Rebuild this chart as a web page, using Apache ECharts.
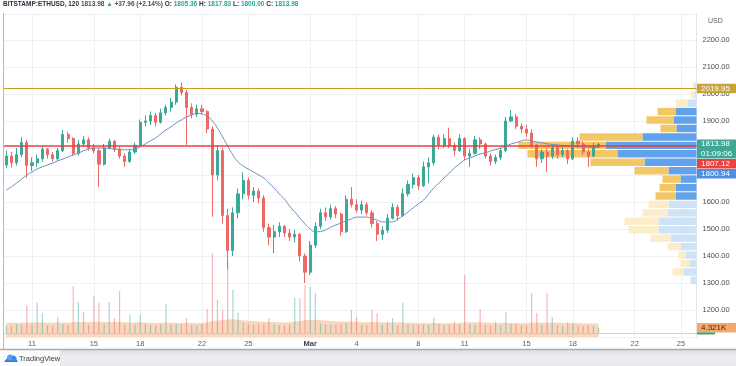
<!DOCTYPE html>
<html><head><meta charset="utf-8">
<script src="https://cdn.jsdelivr.net/npm/echarts@6/dist/echarts.min.js"></script>
<style>html,body{margin:0;padding:0;background:#fff}#c{width:736px;height:366px}</style>
</head><body><div id="c"></div>
<script>
// ---- data (8-hour candles) ----
const startDate = Date.UTC(2021, 1, 9, 0, 0);           // first category (empty slot)
const slotHours = 8;
const slotCount = 136;
const firstCandleSlot = 1;                              // Feb 9 08:00
const tickDates = ['2021-02-11','2021-02-15','2021-02-18','2021-02-22','2021-02-25','2021-03-01','2021-03-04','2021-03-08','2021-03-11','2021-03-15','2021-03-18','2021-03-22','2021-03-25'];
const tickLabels = ['11','15','18','22','25','Mar','4','8','11','15','18','22','25'];
const priceTicks = [1200,1300,1400,1500,1600,1700,1800,1900,2000,2100,2200];

const openP = [1737,1770,1745,1775,1820,1735,1745,1760,1795,1775,1760,1790,1850,1835,1780,1815,1830,1800,1790,1740,1800,1825,1795,1770,1750,1785,1810,1895,1900,1920,1895,1930,1950,1970,2025,2005,1950,1925,1945,1935,1870,1700,1790,1550,1420,1560,1630,1680,1625,1640,1615,1505,1470,1490,1510,1485,1470,1480,1400,1340,1440,1510,1560,1545,1575,1555,1490,1610,1590,1570,1590,1560,1520,1480,1495,1540,1580,1550,1630,1665,1690,1660,1730,1745,1840,1810,1835,1810,1790,1835,1770,1780,1830,1815,1770,1750,1765,1790,1900,1915,1880,1870,1855,1810,1760,1785,1770,1800,1775,1790,1760,1825,1815,1785,1770,1805.36];
const closeP = [1770,1745,1775,1820,1735,1745,1760,1795,1775,1760,1790,1850,1835,1780,1815,1830,1800,1790,1740,1800,1825,1795,1770,1750,1785,1810,1895,1900,1920,1895,1930,1950,1970,2025,2005,1950,1925,1945,1935,1870,1700,1790,1550,1420,1560,1630,1680,1625,1640,1615,1505,1470,1490,1510,1485,1470,1480,1400,1340,1440,1510,1560,1545,1575,1555,1490,1610,1590,1570,1590,1560,1520,1480,1495,1540,1580,1550,1630,1665,1690,1660,1730,1745,1840,1810,1835,1810,1790,1835,1770,1780,1830,1815,1770,1750,1765,1790,1900,1915,1880,1870,1855,1810,1760,1785,1770,1800,1775,1790,1760,1825,1815,1785,1770,1805.36,1813.98];
const highP = [1790,1785,1800,1840,1830,1765,1775,1805,1800,1785,1800,1867,1860,1840,1830,1845,1840,1815,1800,1815,1835,1830,1805,1780,1795,1820,1905,1920,1935,1930,1945,1960,1985,2035,2042,2015,1965,1960,1960,1940,1880,1810,1800,1575,1580,1650,1710,1690,1655,1650,1625,1520,1515,1525,1515,1500,1495,1485,1410,1455,1525,1575,1580,1590,1585,1560,1625,1655,1610,1605,1600,1570,1530,1510,1555,1595,1590,1650,1680,1705,1700,1750,1765,1850,1850,1850,1875,1820,1850,1840,1795,1845,1840,1820,1780,1775,1800,1915,1941,1925,1890,1885,1870,1815,1795,1800,1810,1810,1805,1795,1840,1840,1825,1795,1820,1817.83];
const lowP = [1725,1728,1735,1765,1689,1715,1730,1750,1760,1750,1752,1785,1820,1770,1772,1805,1790,1780,1656,1735,1795,1785,1760,1730,1745,1778,1805,1880,1885,1880,1890,1920,1935,1960,1995,1811,1910,1915,1925,1855,1545,1680,1520,1350,1400,1540,1610,1610,1600,1595,1490,1440,1410,1470,1470,1455,1450,1380,1300,1330,1430,1500,1530,1535,1540,1475,1485,1580,1560,1555,1550,1505,1455,1460,1485,1535,1530,1545,1620,1650,1645,1655,1670,1735,1795,1800,1800,1770,1785,1755,1730,1775,1795,1760,1735,1740,1755,1785,1895,1870,1855,1840,1800,1730,1745,1710,1760,1760,1765,1740,1755,1800,1775,1730,1765,1800];
const maP = [1644,1656,1670,1685,1700,1711,1722,1730,1737,1744,1752,1759,1767,1774,1781,1789,1796,1800,1800,1800,1798,1796,1794,1793,1793,1796,1804,1815,1826,1837,1852,1867,1878,1893,1904,1915,1922,1928,1926,1919,1900,1874,1841,1807,1774,1748,1733,1722,1711,1700,1689,1670,1652,1630,1611,1585,1563,1541,1519,1500,1489,1491,1496,1507,1515,1522,1530,1537,1544,1544,1544,1539,1533,1526,1526,1526,1537,1548,1563,1578,1593,1607,1630,1652,1670,1689,1707,1726,1741,1756,1763,1770,1778,1781,1789,1794,1800,1807,1815,1820,1826,1830,1826,1822,1819,1815,1813,1811,1809,1807,1806,1805,1804,1803,1802,1800.94];
const volume = [6200,5800,7100,6500,22800,6900,24450,16300,6100,5600,13000,7400,6300,38300,25300,17100,6800,30150,24450,7200,25300,12200,34200,6600,14700,6900,14700,7500,6400,6000,7100,23600,6700,7800,7000,12200,6500,5900,7300,19600,65200,26900,18800,57900,35000,16300,8200,7400,6900,7200,7600,12200,7000,6600,6200,6800,28500,28500,39100,37500,32600,7900,7100,6500,6900,7300,8000,18800,13000,6700,6300,18800,16300,6600,9000,12200,6400,24450,7200,6800,6500,7000,6600,12200,7100,6400,6900,9000,7000,47300,7400,6800,19600,6500,6200,9000,6600,17100,7300,6900,6300,6100,32600,16300,6800,32600,13000,6400,6000,9000,8150,6200,5800,6300,5900,4321];
const volumeMA = [8100,8300,8200,8400,8600,8500,8700,8600,8400,8300,8500,8600,8400,8800,9000,8900,8700,9100,9200,8900,9000,8800,9100,8700,8600,8500,8700,8400,8300,8200,8300,8500,8400,8200,8100,8300,8200,8000,8200,8600,9800,10200,10500,11000,11200,10800,10400,10000,9700,9400,9200,9000,8900,8700,8600,8800,9300,9800,10300,10600,10800,10500,10100,9800,9500,9300,9200,9300,9100,8900,8800,8900,8900,8700,8600,8500,8700,8600,8400,8300,8200,8100,8000,8200,8100,8000,7900,8000,8100,8700,8800,8600,8700,8500,8300,8200,8100,8300,8200,8100,8000,7900,8300,8500,8400,8600,8500,8300,8200,8100,8000,7900,7800,7800,7700,7700];
// visible-range volume profile
const profStep = 31.25;
const profLow = [1294,1325.25,1356.5,1387.75,1419,1450.25,1481.5,1512.75,1544,1575.25,1606.5,1637.75,1669,1700.25,1731.5,1762.75,1794,1825.25,1856.5,1887.75,1919,1950.25,1981.5,2012.75];
const profTotal = [6,24,16,18,29,46,68,72,54,48,41,37,34,62,106,169,178,117,36,50,39,21,6,4];
const profUp = [6,13,7,11,16,26,38,38,29,28,21,21,16,28,52,79,91,54,20,23,21,9,2,2];
const profValueArea = [0,0,0,0,0,0,0,0,0,0,1,1,1,1,1,1,1,1,1,1,1,0,0,0];
const levelGold = 2019.95, levelRed = 1807.12;
const lastPrice = 1813.98, lastVolume = 4321, lastMA = 1800.94;

// ---- build ----
function fmt(t){const d=new Date(t);const p=n=>String(n).padStart(2,'0');return d.getUTCFullYear()+'-'+p(d.getUTCMonth()+1)+'-'+p(d.getUTCDate())+' '+p(d.getUTCHours())+':'+p(d.getUTCMinutes());}
const categories=[];for(let j=0;j<slotCount;j++)categories.push(fmt(startDate+j*slotHours*3600e3));
const tickMap={};tickDates.forEach((d,k)=>{tickMap[categories.indexOf(d+' 00:00')]=tickLabels[k];});
const candleCats=openP.map((_,i)=>categories[i+firstCandleSlot]);
const candleData=openP.map((o,i)=>[candleCats[i],o,closeP[i],lowP[i],highP[i]]);
const maData=maP.map((v,i)=>[candleCats[i],v]);
const volData=volume.map((v,i)=>({value:[candleCats[i],v],itemStyle:{color:closeP[i]>=openP[i]?'rgba(38,166,154,0.42)':'rgba(239,83,80,0.42)'}}));
const volMAData=volumeMA.map((v,i)=>[candleCats[i],v]);
const profData=[];
profLow.forEach((lo,k)=>{profData.push([lo,lo+profStep,0,profUp[k],profValueArea[k],0]);profData.push([lo,lo+profStep,profUp[k],profTotal[k],profValueArea[k],1]);});

const GRID_L=1.1, GRID_W=135*5.151, GRID_TOP=14, GRID_BOTTOM=29;
const font='"Liberation Sans", Arial, sans-serif';
const chart=echarts.init(document.getElementById('c'),null,{renderer:'canvas'});
const option={
  animation:false,
  backgroundColor:'#ffffff',
  textStyle:{fontFamily:font},
  title:{left:3,top:1,padding:0,
    text:'{b|BITSTAMP:ETHUSD, 120} {n|1813.98} {g|▲} {n|+37.96 (+2.14%)} {b|O:} {g|1805.36} {b|H:} {g|1817.83} {b|L:} {g|1800.00} {b|C:} {g|1813.98}',
    textStyle:{fontSize:6.5,fontFamily:font,rich:{
      b:{fontSize:6.5,fontWeight:'bold',color:'#2a2e39',fontFamily:font},
      n:{fontSize:6.5,color:'#4a4e59',fontFamily:font},
      g:{fontSize:6.5,color:'#26a69a',fontFamily:font}}}},
  grid:{left:GRID_L,top:GRID_TOP,width:GRID_W,bottom:GRID_BOTTOM,containLabel:false},
  xAxis:[{type:'category',data:categories,boundaryGap:false,
      axisLine:{show:true,lineStyle:{color:'#cfd2d8'}},axisTick:{show:false},
      axisLabel:{interval:(i)=>tickMap[i]!==undefined,formatter:(v,i)=>{const l=tickMap[i];return l==='Mar'?'{m|Mar}':l;},
        fontSize:7.5,color:'#5a5e69',margin:3,fontFamily:font,rich:{m:{fontWeight:'bold',fontSize:7.5,color:'#3a3e49',fontFamily:font}}},
      splitLine:{show:true,interval:(i)=>tickMap[i]!==undefined,lineStyle:{color:'#eef0f4',width:1}}},
    {type:'value',gridIndex:0,inverse:true,min:0,max:GRID_W,show:false}],
  yAxis:[{type:'value',position:'right',min:1100,max:2296,interval:100,scale:true,
      axisLine:{show:true,lineStyle:{color:'#e3e5ea'}},axisTick:{show:false},
      axisLabel:{showMinLabel:false,showMaxLabel:false,margin:6,fontSize:7.5,color:'#4a4e59',fontFamily:font,
        formatter:(v)=>priceTicks.indexOf(v)>=0?v.toFixed(2):''},
      splitLine:{show:true,lineStyle:{color:'#eef0f4'}}},
    {type:'value',min:-3260,max:260000,show:false,splitLine:{show:false}}],
  series:[
    {type:'custom',name:'profile',xAxisIndex:1,yAxisIndex:0,z:1,encode:{x:[2,3],y:[0,1]},data:profData,silent:true,
      renderItem:(params,api)=>{
        const lo=api.value(0),hi=api.value(1),a=api.value(2),b=api.value(3),va=api.value(4),kind=api.value(5);
        if(b<=a)return null;
        const p1=api.coord([a,hi]),p2=api.coord([b,lo]);
        const fill=kind===0?(va?'#62a1ec':'#cfe3f7'):(va?'#f2c867':'#fbedc9');
        return {type:'rect',shape:{x:Math.min(p1[0],p2[0]),y:p1[1]+0.5,width:Math.abs(p2[0]-p1[0]),height:Math.max(1,p2[1]-p1[1]-1)},style:{fill:fill}};
      }},
    {type:'bar',name:'volume',yAxisIndex:1,barWidth:1.2,z:1,data:volData,silent:true},
    {type:'line',name:'volMA',yAxisIndex:1,data:volMAData,showSymbol:false,z:1,silent:true,
      lineStyle:{width:0},areaStyle:{color:'rgba(244,178,134,0.75)',origin:'start'}},
    {type:'candlestick',name:'ETHUSD',z:3,encode:{x:0,y:[1,2,3,4]},data:candleData,barWidth:2.6,
      itemStyle:{color:'#3aa997',color0:'#ec6965',borderColor:'#3aa997',borderColor0:'#ec6965',borderWidth:1},
      markLine:{silent:true,symbol:['none','none'],label:{show:false},animation:false,
        data:[{yAxis:levelGold,lineStyle:{color:'#c4a028',width:1,type:'solid'}},
              {yAxis:levelRed,lineStyle:{color:'rgba(230,60,55,0.72)',width:2.2,type:'solid'}}]}},
    {type:'line',name:'MA',data:maData,showSymbol:false,smooth:0.4,z:4,silent:true,
      lineStyle:{color:'#6a91c4',width:1}}
  ]
};
chart.setOption(option);

const yp=v=>chart.convertToPixel({yAxisIndex:0},v);
const yGold=yp(levelGold), yLast=yp(lastPrice), yVol=chart.convertToPixel({yAxisIndex:1},lastVolume);
const BX=697, BW=39, BH=9.5;
function box(yc,bg,txt,col){return [
  {type:'rect',z:100,shape:{x:BX,y:yc-BH/2,width:BW,height:BH},style:{fill:bg}},
  {type:'text',z:101,x:BX+4,y:yc,style:{text:txt,fill:col||'#fff',font:'8px '+font,verticalAlign:'middle',align:'left'}}];}
const g=[];
g.push({type:'rect',z:99,shape:{x:0,y:12,width:3,height:338},style:{fill:'#fff'}});
g.push({type:'line',z:100,shape:{x1:3.5,y1:13,x2:3.5,y2:349},style:{stroke:'#b8bbc2',lineWidth:1}});
g.push({type:'text',z:100,x:708,y:21,style:{text:'USD',fill:'#5a5e69',font:'7px '+font,verticalAlign:'middle'}});
g.push(...box(yGold,'#c9a43a','2019.95'));
g.push({type:'rect',z:100,shape:{x:BX,y:yLast-BH/2,width:BW,height:BH*2},style:{fill:'#3fa796'}});
g.push({type:'text',z:101,x:BX+4,y:yLast,style:{text:'1813.98',fill:'#fff',font:'8px '+font,verticalAlign:'middle'}});
g.push({type:'text',z:101,x:BX+4,y:yLast+BH,style:{text:'01:09:06',fill:'#fff',font:'8px '+font,verticalAlign:'middle'}});
g.push(...box(yLast+BH*2+0.5,'#e8433f','1807.12'));
g.push(...box(yLast+BH*3+1,'#4e8fe0',lastMA.toFixed(2)));
g.push(...box(yVol,'#f5a76c','4.321K','#3a2a20'));
g.push({type:'rect',z:100,shape:{x:BX,y:yVol+BH/2,width:18,height:2},style:{fill:'#3fa06a'}});
// footer
g.push({type:'rect',z:100,shape:{x:0,y:349,width:736,height:17},
  style:{fill:{type:'linear',x:0,y:0,x2:0,y2:1,colorStops:[{offset:0,color:'#dcdde0'},{offset:0.5,color:'#eeeff1'},{offset:1,color:'#e6e7e9'}]}}});
g.push({type:'rect',z:100,shape:{x:0,y:350,width:60,height:16},style:{fill:'#fbfbfb'}});
g.push({type:'line',z:101,shape:{x1:0,y1:349.5,x2:736,y2:349.5},style:{stroke:'#a9abb0',lineWidth:1.5}});
g.push({type:'polygon',z:101,shape:{points:[[4,362],[8,357],[10.5,359.5],[13.5,355],[18,362]]},style:{fill:'#2e7de0'}});
g.push({type:'circle',z:101,shape:{cx:10,cy:357.5,r:3},style:{fill:'#5aa2ef'}});
g.push({type:'circle',z:101,shape:{cx:14,cy:358.5,r:2.5},style:{fill:'#3b8be6'}});
g.push({type:'text',z:102,x:19,y:359,style:{text:'TradingView',fill:'#3a3e49',font:'7.5px '+font,verticalAlign:'middle'}});
chart.setOption({graphic:g});
</script></body></html>
